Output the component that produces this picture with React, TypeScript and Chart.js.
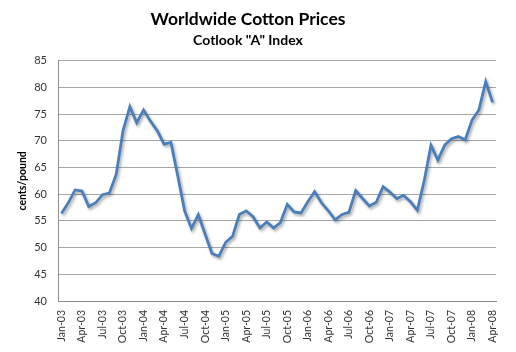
import React, { useEffect, useRef } from "react";
import { Chart, registerables } from "chart.js";

Chart.register(...registerables);

const months = ["Jan", "Feb", "Mar", "Apr", "May", "Jun", "Jul", "Aug", "Sep", "Oct", "Nov", "Dec"];
const years = ["03", "04", "05", "06", "07", "08"];

const categories: string[] = [];
for (const y of years) {
  for (const m of months) {
    if (y === "08" && months.indexOf(m) > 3) break;
    categories.push(`${m}-${y}`);
  }
}

const prices = [
  56.4, 58.4, 60.8, 60.6, 57.7, 58.4, 59.9, 60.2, 63.7, 71.9, 76.4, 73.4,
  75.8, 73.7, 71.9, 69.4, 69.7, 63.4, 56.9, 53.6, 56.2, 52.5, 48.9, 48.4,
  51.0, 52.1, 56.2, 56.9, 55.8, 53.7, 54.8, 53.7, 54.7, 58.1, 56.7, 56.5,
  58.6, 60.5, 58.4, 56.9, 55.2, 56.2, 56.6, 60.7, 59.2, 57.8, 58.5, 61.4,
  60.4, 59.2, 59.8, 58.6, 57.0, 62.5, 69.2, 66.4, 69.2, 70.4, 70.8, 70.2,
  73.9, 75.8, 81.1, 77.2,
];

const yMin = 40;
const yMax = 85;
const yStep = 5;

const titleText = "Worldwide Cotton Prices";
const subtitleText = 'Cotlook "A" Index';
const yAxisTitle = "cents/pound";

const FONT = "Lato, 'Open Sans', sans-serif";

const shadowPlugin = {
  id: "lineShadow",
  beforeDatasetDraw(chart: any) {
    const ctx = chart.ctx;
    ctx.save();
    ctx.shadowColor = "rgba(0,0,0,0.35)";
    ctx.shadowBlur = 3;
    ctx.shadowOffsetX = 1.5;
    ctx.shadowOffsetY = 2;
  },
  afterDatasetDraw(chart: any) {
    chart.ctx.restore();
  },
};

export default function App() {
  const ref = useRef<HTMLCanvasElement | null>(null);

  useEffect(() => {
    if (!ref.current) return;
    const chart = new Chart(ref.current, {
      type: "line",
      data: {
        labels: categories,
        datasets: [
          {
            data: prices,
            borderColor: "#4A7EBB",
            borderWidth: 2.75,
            pointRadius: 0,
            tension: 0,
            fill: false,
          },
        ],
      },
      plugins: [shadowPlugin],
      options: {
        responsive: false,
        animation: false,
        layout: { padding: { left: 0, right: 20, top: 0, bottom: 0 } },
        plugins: {
          legend: { display: false },
          tooltip: { enabled: false },
          title: {
            display: true,
            text: titleText,
            color: "#000",
            font: { family: FONT, size: 17.5, weight: "bold" },
            padding: { top: 9, bottom: 0 },
          },
          subtitle: {
            display: true,
            text: subtitleText,
            color: "#000",
            font: { family: FONT, size: 14, weight: "bold" },
            padding: { top: 2, bottom: 12 },
          },
        },
        scales: {
          x: {
            offset: true,
            grid: { display: false, drawTicks: false },
            border: { display: true, color: "#8C8C8C", width: 1 },
            ticks: {
              autoSkip: false,
              minRotation: 90,
              maxRotation: 90,
              padding: 9,
              color: "#333",
              font: { family: FONT, size: 10.5 },
              callback: (_v: any, i: number) => (i % 3 === 0 ? categories[i] : ""),
            },
            afterFit: (scale: any) => {
              scale.height = 51;
            },
          },
          y: {
            min: yMin,
            max: yMax,
            grid: { color: "#A6A6A6", lineWidth: 1, drawTicks: false },
            border: { display: true, color: "#8C8C8C", width: 1 },
            ticks: {
              stepSize: yStep,
              padding: 11,
              color: "#333",
              font: { family: FONT, size: 11 },
            },
            title: {
              display: true,
              text: yAxisTitle,
              color: "#000",
              font: { family: FONT, size: 10.5, weight: "bold" },
              padding: { top: 16, bottom: 0 },
            },
            afterFit: (scale: any) => {
              scale.width = 58;
            },
          },
        },
      },
    });
    return () => chart.destroy();
  }, []);

  return (
    <div style={{ position: "fixed", left: 0, top: 0, width: 516, height: 352, background: "#fff" }}>
      <canvas ref={ref} width={516} height={352} style={{ width: 516, height: 352 }} />
    </div>
  );
}
